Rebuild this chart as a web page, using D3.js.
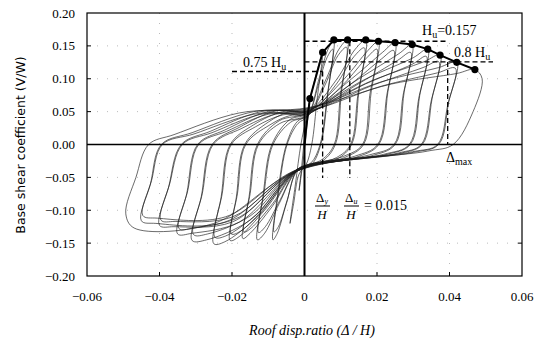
<!DOCTYPE html>
<html><head><meta charset="utf-8">
<script src="https://cdn.jsdelivr.net/npm/d3@7"></script>
<style>body{margin:0;background:#fff}svg{display:block}</style>
</head><body><svg id="c" width="542" height="342"></svg>
<script>
// ---- data ----
const xTicks = [-0.06, -0.04, -0.02, 0, 0.02, 0.04, 0.06];
const xTickLabels = ["\u22120.06", "\u22120.04", "\u22120.02", "0", "0.02", "0.04", "0.06"];
const yTicks = [0.20, 0.15, 0.10, 0.05, 0.00, -0.05, -0.10, -0.15, -0.20];
const yTickLabels = ["0.20", "0.15", "0.10", "0.05", "0.00", "\u22120.05", "\u22120.10", "\u22120.15", "\u22120.20"];

// envelope (positive peaks)
const envelopeX = [0, 0.0005, 0.0015, 0.005, 0.0081, 0.0119, 0.0169, 0.0204, 0.025, 0.0297, 0.034, 0.0374, 0.042, 0.047];
const envelopeY = [0, 0.027, 0.070, 0.140, 0.159, 0.159, 0.159, 0.157, 0.155, 0.152, 0.145, 0.136, 0.125, 0.114];

// hysteresis cycles (closed loops, [x, y]) - first cycle at each drift level
const loop1 = [[0.0015,0.07],[0.0008,0.035],[0.0002,0],[-0.0005,-0.03],[-0.0015,-0.07],[-0.0008,-0.035],[-0.0002,0],[0.0005,0.03]];
const loop2 = [[0.005,0.140],[0.0035,0.07],[0.002,0],[0.0005,-0.03],[-0.0015,-0.045],[-0.003,-0.09],[-0.004,-0.12],[-0.0025,-0.06],[-0.001,0],[0.0005,0.04],[0.002,0.08]];
const loop3 = [[0.0081,0.159],[0.0065,0.08],[0.0045,0],[0.002,-0.03],[-0.002,-0.04],[-0.005,-0.09],[-0.0075,-0.135],[-0.0087,-0.145],[-0.0075,-0.08],[-0.005,0],[-0.002,0.035],[0.001,0.045],[0.004,0.1],[0.0065,0.145]];
const loop4 = [[0.0119,0.159],[0.0102,0.08],[0.0085,0],[0.005,-0.025],[-0.002,-0.04],[-0.007,-0.09],[-0.011,-0.135],[-0.013,-0.145],[-0.0115,-0.08],[-0.009,0],[-0.004,0.038],[0.001,0.047],[0.006,0.1],[0.0095,0.145]];
const loop5 = [[0.0169,0.159],[0.015,0.08],[0.013,0],[0.009,-0.022],[-0.002,-0.04],[-0.009,-0.095],[-0.015,-0.135],[-0.017,-0.143],[-0.0153,-0.08],[-0.013,0],[-0.007,0.036],[0.001,0.049],[0.009,0.1],[0.014,0.145]];
const loop6 = [[0.0204,0.157],[0.0184,0.08],[0.0163,0],[0.011,-0.02],[-0.002,-0.04],[-0.011,-0.1],[-0.018,-0.14],[-0.0205,-0.146],[-0.0188,-0.08],[-0.0165,0],[-0.01,0.034],[-0.004,0.05],[0.001,0.05],[0.011,0.1],[0.0175,0.143]];
const loop7 = [[0.025,0.155],[0.023,0.08],[0.0205,0],[0.014,-0.02],[-0.002,-0.04],[-0.013,-0.11],[-0.022,-0.148],[-0.025,-0.151],[-0.023,-0.08],[-0.0205,0],[-0.014,0.03],[-0.006,0.05],[0.001,0.051],[0.013,0.1],[0.0215,0.14]];
const loop8 = [[0.0297,0.152],[0.0275,0.08],[0.025,0],[0.018,-0.018],[-0.002,-0.04],[-0.015,-0.115],[-0.027,-0.145],[-0.031,-0.146],[-0.0285,-0.08],[-0.0255,0],[-0.018,0.026],[-0.008,0.051],[0.001,0.052],[0.015,0.1],[0.026,0.138]];
const loop9 = [[0.034,0.145],[0.0318,0.075],[0.0292,0],[0.022,-0.016],[-0.002,-0.04],[-0.018,-0.118],[-0.031,-0.135],[-0.035,-0.136],[-0.0325,-0.075],[-0.0295,0],[-0.022,0.022],[-0.01,0.05],[0.001,0.053],[0.017,0.1],[0.03,0.132]];
const loop10 = [[0.0374,0.136],[0.0352,0.07],[0.0325,0],[0.026,-0.014],[-0.002,-0.04],[-0.02,-0.118],[-0.036,-0.125],[-0.040,-0.123],[-0.0375,-0.065],[-0.034,0],[-0.026,0.02],[-0.012,0.05],[0.001,0.054],[0.019,0.098],[0.033,0.126]];
const loop11 = [[0.042,0.125],[0.0398,0.065],[0.037,0],[0.03,-0.012],[-0.002,-0.04],[-0.022,-0.118],[-0.041,-0.12],[-0.045,-0.116],[-0.0425,-0.06],[-0.0395,0],[-0.031,0.018],[-0.014,0.05],[0.001,0.055],[0.021,0.095],[0.037,0.117]];
const loop12 = [[0.047,0.114],[0.049,0.10],[0.0465,0.05],[0.041,0],[0.034,-0.01],[-0.002,-0.04],[-0.025,-0.12],[-0.047,-0.127],[-0.0493,-0.1055],[-0.0465,-0.05],[-0.043,0],[-0.036,0.015],[-0.018,0.048],[0.001,0.056],[0.024,0.092],[0.042,0.108]];
// repeated cycles at the same drift levels (lower strength)
const rep3 = [[0.0078,0.145],[0.0063,0.075],[0.0043,0],[0.0018,-0.028],[-0.002,-0.038],[-0.0048,-0.085],[-0.0072,-0.125],[-0.0084,-0.133],[-0.0072,-0.075],[-0.0048,0],[-0.0018,0.032],[0.001,0.043],[0.0038,0.09],[0.0062,0.132]];
const rep4 = [[0.0116,0.148],[0.0099,0.075],[0.0082,0],[0.0048,-0.023],[-0.002,-0.038],[-0.0068,-0.085],[-0.0108,-0.125],[-0.0127,-0.134],[-0.0112,-0.075],[-0.0087,0],[-0.0038,0.034],[0.001,0.044],[0.0058,0.092],[0.0092,0.135]];
const rep5 = [[0.0165,0.147],[0.0147,0.075],[0.0127,0],[0.0088,-0.02],[-0.002,-0.038],[-0.0088,-0.09],[-0.0147,-0.127],[-0.0167,-0.133],[-0.015,-0.075],[-0.0127,0],[-0.0068,0.032],[0.001,0.045],[0.0088,0.092],[0.0137,0.134]];
const rep6 = [[0.020,0.145],[0.018,0.075],[0.016,0],[0.0108,-0.018],[-0.002,-0.038],[-0.0108,-0.095],[-0.0177,-0.132],[-0.0202,-0.136],[-0.0185,-0.075],[-0.0162,0],[-0.0095,0.03],[-0.004,0.044],[0.001,0.046],[0.0108,0.092],[0.0172,0.132]];
const rep7 = [[0.0246,0.143],[0.0227,0.075],[0.0202,0],[0.0138,-0.018],[-0.002,-0.038],[-0.0128,-0.104],[-0.0217,-0.139],[-0.0247,-0.141],[-0.0227,-0.075],[-0.0202,0],[-0.0135,0.027],[-0.006,0.045],[0.001,0.047],[0.0128,0.092],[0.0212,0.13]];
const rep8 = [[0.0293,0.14],[0.0272,0.075],[0.0247,0],[0.0178,-0.016],[-0.002,-0.038],[-0.0148,-0.108],[-0.0267,-0.136],[-0.0306,-0.137],[-0.0282,-0.075],[-0.0252,0],[-0.0175,0.024],[-0.008,0.046],[0.001,0.048],[0.0148,0.092],[0.0257,0.128]];
const rep9 = [[0.0336,0.134],[0.0315,0.07],[0.0289,0],[0.0218,-0.015],[-0.002,-0.038],[-0.0178,-0.11],[-0.0307,-0.127],[-0.0346,-0.128],[-0.0322,-0.07],[-0.0292,0],[-0.0215,0.02],[-0.01,0.046],[0.001,0.049],[0.0168,0.092],[0.0297,0.122]];
const rep10 = [[0.037,0.126],[0.0349,0.065],[0.0322,0],[0.0258,-0.013],[-0.002,-0.038],[-0.0198,-0.11],[-0.0357,-0.117],[-0.0396,-0.115],[-0.0372,-0.06],[-0.0337,0],[-0.0255,0.018],[-0.012,0.046],[0.001,0.05],[0.0188,0.09],[0.0327,0.117]];
const rep11 = [[0.0416,0.116],[0.0395,0.06],[0.0367,0],[0.0298,-0.011],[-0.002,-0.038],[-0.0218,-0.11],[-0.0406,-0.112],[-0.0446,-0.108],[-0.0422,-0.055],[-0.0392,0],[-0.0305,0.016],[-0.014,0.046],[0.001,0.051],[0.0208,0.088],[0.0367,0.109]];
const loops = [loop1, loop2, loop3, loop4, loop5, loop6, loop7, loop8, loop9, loop10, loop11, loop12,
               rep3, rep4, rep5, rep6, rep7, rep8, rep9, rep10, rep11];

// annotation values (as drawn)
const Hu = 0.157, Hu08 = 0.1256, Hu075 = 0.111;
const dY = 0.005, dU = 0.0125, dMax = 0.0395;

// ---- drawing ----
const svg = d3.select("#c");
const x = d3.scaleLinear().domain([-0.06, 0.06]).range([87, 522]);
const y = d3.scaleLinear().domain([-0.2, 0.2]).range([276, 13]);
const serif = "'Liberation Serif','Times New Roman',serif";

// faint dotted grid
const g = svg.append("g");
g.selectAll("line.gx").data(xTicks.slice(1, -1)).join("line")
  .attr("x1", d => x(d)).attr("x2", d => x(d)).attr("y1", y(0.2)).attr("y2", y(-0.2))
  .attr("stroke", "#bbb").attr("stroke-width", 1).attr("stroke-dasharray", "1,9");
g.selectAll("line.gy").data(yTicks.slice(1, -1)).join("line")
  .attr("y1", d => y(d)).attr("y2", d => y(d)).attr("x1", x(-0.06)).attr("x2", x(0.06))
  .attr("stroke", "#bbb").attr("stroke-width", 1).attr("stroke-dasharray", "1,9");

// loops
const lineGen = d3.line().x(d => x(d[0])).y(d => y(d[1])).curve(d3.curveCatmullRomClosed.alpha(0.5));
svg.append("g").selectAll("path").data(loops).join("path")
  .attr("d", lineGen).attr("fill", "none").attr("stroke", "#1a1a1a").attr("stroke-width", 0.65);

// zero lines
svg.append("line").attr("x1", x(-0.06)).attr("x2", x(0.06)).attr("y1", y(0)).attr("y2", y(0))
  .attr("stroke", "#000").attr("stroke-width", 1.5);
svg.append("line").attr("x1", x(0)).attr("x2", x(0)).attr("y1", y(0.2)).attr("y2", y(-0.2))
  .attr("stroke", "#000").attr("stroke-width", 2);

// dashed guide lines
const dash = "5,3";
const guides = [
  [0, Hu, 0.0389, Hu], [0, Hu08, 0.052, Hu08], [-0.02, Hu075, 0.005, Hu075],
  [dY, Hu075, dY, -0.051], [dU, Hu, dU, -0.051], [dMax, Hu08, dMax, 0]
];
svg.append("g").selectAll("line").data(guides).join("line")
  .attr("x1", d => x(d[0])).attr("y1", d => y(d[1])).attr("x2", d => x(d[2])).attr("y2", d => y(d[3]))
  .attr("stroke", "#000").attr("stroke-width", 1.3).attr("stroke-dasharray", dash);

// envelope
const env = envelopeX.map((v, i) => [v, envelopeY[i]]);
svg.append("path").datum(env).attr("d", d3.line().x(d => x(d[0])).y(d => y(d[1])))
  .attr("fill", "none").attr("stroke", "#000").attr("stroke-width", 2);
svg.append("g").selectAll("circle").data(env.slice(2)).join("circle")
  .attr("cx", d => x(d[0])).attr("cy", d => y(d[1])).attr("r", 3.6).attr("fill", "#000");

// frame
svg.append("rect").attr("x", x(-0.06)).attr("y", y(0.2)).attr("width", x(0.06) - x(-0.06)).attr("height", y(-0.2) - y(0.2))
  .attr("fill", "none").attr("stroke", "#000").attr("stroke-width", 1.2);
// inward ticks
svg.append("g").selectAll("line").data(xTicks.slice(1, -1)).join("line")
  .attr("x1", d => x(d)).attr("x2", d => x(d)).attr("y1", y(-0.2)).attr("y2", y(-0.2) - 4).attr("stroke", "#000");
svg.append("g").selectAll("line").data(yTicks.slice(1, -1)).join("line")
  .attr("y1", d => y(d)).attr("y2", d => y(d)).attr("x1", x(-0.06)).attr("x2", x(-0.06) + 4).attr("stroke", "#000");
svg.append("g").selectAll("line").data(yTicks.slice(1, -1)).join("line")
  .attr("y1", d => y(d)).attr("y2", d => y(d)).attr("x1", x(0.06)).attr("x2", x(0.06) - 4).attr("stroke", "#000");

// tick labels
svg.append("g").selectAll("text").data(xTicks).join("text")
  .attr("x", d => x(d)).attr("y", 301).attr("text-anchor", "middle")
  .attr("font-family", serif).attr("font-size", 13).text((d, i) => xTickLabels[i]);
svg.append("g").selectAll("text").data(yTicks).join("text")
  .attr("x", 75).attr("y", d => y(d) + 4.5).attr("text-anchor", "end")
  .attr("font-family", serif).attr("font-size", 13).text((d, i) => yTickLabels[i]);

// axis titles
svg.append("text").attr("transform", "translate(25,145) rotate(-90)").attr("text-anchor", "middle")
  .attr("font-family", "'DejaVu Sans','Liberation Sans',sans-serif").attr("font-size", 12.5)
  .text("Base shear coefficient (V/W)");
svg.append("text").attr("x", 312).attr("y", 335).attr("text-anchor", "middle")
  .attr("font-family", serif).attr("font-size", 14).attr("font-style", "italic")
  .text("Roof disp.ratio (\u0394 / H)");

// annotations
const ann = svg.append("g").attr("font-family", serif).attr("font-size", 14);
const t1 = ann.append("text").attr("x", 422).attr("y", 35);
t1.append("tspan").text("H");
t1.append("tspan").attr("font-size", 10).attr("dy", 3).text("u");
t1.append("tspan").attr("dy", -3).text("=0.157");
const t2 = ann.append("text").attr("x", 454).attr("y", 57);
t2.append("tspan").text("0.8 H");
t2.append("tspan").attr("font-size", 10).attr("dy", 3).text("u");
const t3 = ann.append("text").attr("x", 243).attr("y", 67);
t3.append("tspan").text("0.75 H");
t3.append("tspan").attr("font-size", 10).attr("dy", 3).text("u");
const t4 = ann.append("text").attr("x", 446).attr("y", 162);
t4.append("tspan").text("\u0394");
t4.append("tspan").attr("font-size", 10).attr("dy", 3).text("max");
// fractions
function frac(cx, sub) {
  const tt = ann.append("text").attr("x", cx - 6).attr("y", 202).attr("font-size", 13);
  tt.append("tspan").text("\u0394");
  tt.append("tspan").attr("font-size", 8).attr("dy", 2).attr("font-style", "italic").text(sub);
  ann.append("line").attr("x1", cx - 7).attr("x2", cx + 8).attr("y1", 206).attr("y2", 206).attr("stroke", "#000");
  ann.append("text").attr("x", cx).attr("y", 219).attr("text-anchor", "middle").attr("font-size", 13).attr("font-style", "italic").text("H");
}
frac(322, "y");
frac(351, "u");
ann.append("text").attr("x", 364).attr("y", 210).attr("font-size", 14).text("= 0.015");
</script></body></html>
